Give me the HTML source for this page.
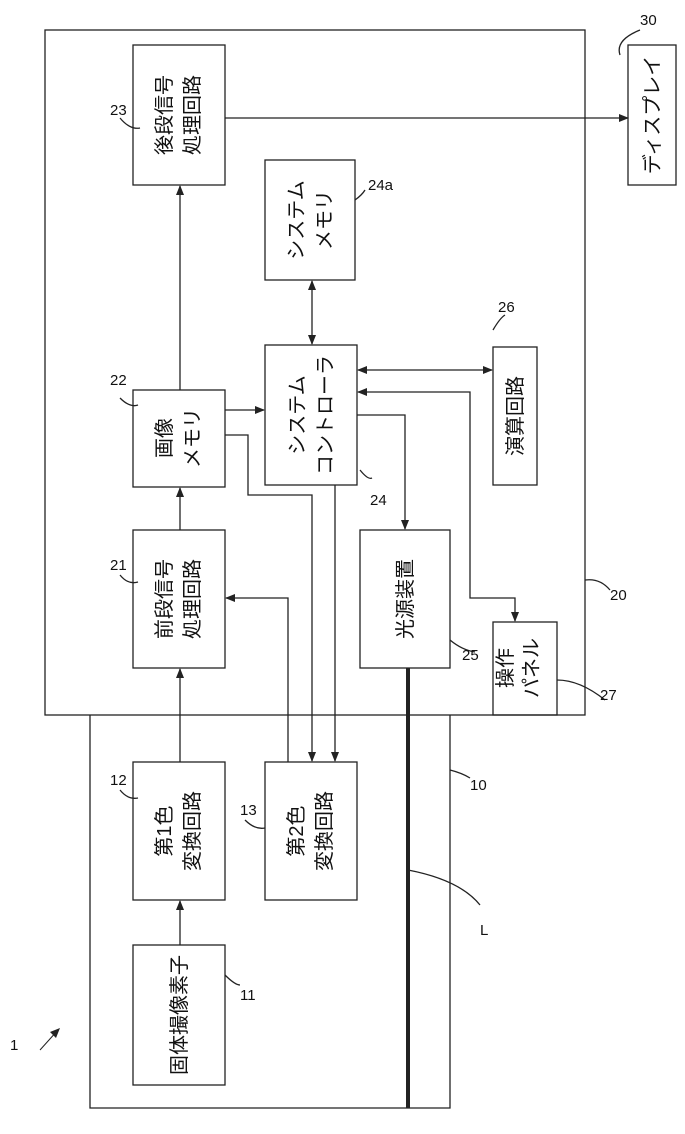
<!DOCTYPE html>
<html><head><meta charset="utf-8"><style>body{margin:0;background:#fff}svg{display:block}</style></head>
<body>
<svg width="685" height="1134" viewBox="0 0 685 1134" xmlns="http://www.w3.org/2000/svg" font-family="Liberation Sans, Noto Sans CJK JP, sans-serif">
<defs><marker id="a" markerWidth="10" markerHeight="10" refX="9" refY="5" orient="auto" markerUnits="userSpaceOnUse"><path d="M0,1 L10,5 L0,9 Z" fill="#222"/></marker>
<marker id="b" markerWidth="10" markerHeight="10" refX="1" refY="5" orient="auto" markerUnits="userSpaceOnUse"><path d="M10,1 L0,5 L10,9 Z" fill="#222"/></marker></defs>
<g fill="none" stroke="#222" stroke-width="1.3">
<rect x="45" y="30" width="540" height="685"/>
<polyline points="90,715 90,1108 450,1108 450,715"/>
<rect x="133" y="45" width="92" height="140"/>
<rect x="265" y="160" width="90" height="120"/>
<rect x="133" y="390" width="92" height="97"/>
<rect x="265" y="345" width="92" height="140"/>
<rect x="493" y="347" width="44" height="138"/>
<rect x="133" y="530" width="92" height="138"/>
<rect x="360" y="530" width="90" height="138"/>
<rect x="493" y="622" width="64" height="93"/>
<rect x="133" y="762" width="92" height="138"/>
<rect x="265" y="762" width="92" height="138"/>
<rect x="133" y="945" width="92" height="140"/>
<rect x="628" y="45" width="48" height="140"/>
<line x1="225" y1="118" x2="628" y2="118" marker-end="url(#a)"/>
<line x1="180" y1="390" x2="180" y2="186" marker-end="url(#a)"/>
<line x1="180" y1="530" x2="180" y2="488" marker-end="url(#a)"/>
<line x1="180" y1="762" x2="180" y2="669" marker-end="url(#a)"/>
<line x1="180" y1="945" x2="180" y2="901" marker-end="url(#a)"/>
<line x1="312" y1="281" x2="312" y2="344" marker-start="url(#b)" marker-end="url(#a)"/>
<line x1="358" y1="370" x2="492" y2="370" marker-start="url(#b)" marker-end="url(#a)"/>
<polyline points="358,392 470,392 470,598 515,598 515,621" marker-start="url(#b)" marker-end="url(#a)"/>
<polyline points="357,415 405,415 405,529" marker-end="url(#a)"/>
<line x1="225" y1="410" x2="264" y2="410" marker-end="url(#a)"/>
<polyline points="225,435 248,435 248,495 312,495 312,761" marker-end="url(#a)"/>
<line x1="335" y1="485" x2="335" y2="761" marker-end="url(#a)"/>
<polyline points="288,762 288,598 226,598" marker-end="url(#a)"/>
<path d="M120,118 Q130,130 140,128"/><path d="M355,200 Q362,195 365,190"/>
<path d="M120,398 Q130,408 138,405"/><path d="M120,575 Q128,585 138,582"/>
<path d="M360,470 Q368,480 372,478"/><path d="M450,640 Q462,650 475,652"/>
<path d="M493,330 Q500,318 505,315"/><path d="M557,680 Q580,680 605,700"/>
<path d="M585,580 Q600,578 610,590"/><path d="M120,790 Q128,800 138,798"/>
<path d="M245,820 Q255,830 265,828"/><path d="M225,975 Q235,985 240,985"/>
<path d="M450,770 Q462,773 470,778"/><path d="M408,870 Q460,880 480,905"/>
<path d="M640,30 Q615,40 620,55"/>
</g>
<line x1="408" y1="668" x2="408" y2="1108" stroke="#222" stroke-width="4"/>
<g font-size="20" fill="#111" text-anchor="middle">
<text transform="translate(171,115) rotate(-90)">後段信号</text>
<text transform="translate(199,115) rotate(-90)">処理回路</text>
<text transform="translate(303,220) rotate(-90)">システム</text>
<text transform="translate(331,220) rotate(-90)">メモリ</text>
<text transform="translate(171,438) rotate(-90)">画像</text>
<text transform="translate(199,438) rotate(-90)">メモリ</text>
<text transform="translate(304,415) rotate(-90)">システム</text>
<text transform="translate(332,415) rotate(-90)">コントローラ</text>
<text transform="translate(522,416) rotate(-90)">演算回路</text>
<text transform="translate(171,599) rotate(-90)">前段信号</text>
<text transform="translate(199,599) rotate(-90)">処理回路</text>
<text transform="translate(412,599) rotate(-90)">光源装置</text>
<text transform="translate(512,668) rotate(-90)">操作</text>
<text transform="translate(538,668) rotate(-90)">パネル</text>
<text transform="translate(171,831) rotate(-90)">第1色</text>
<text transform="translate(199,831) rotate(-90)">変換回路</text>
<text transform="translate(303,831) rotate(-90)">第2色</text>
<text transform="translate(331,831) rotate(-90)">変換回路</text>
<text transform="translate(186,1015) rotate(-90)">固体撮像素子</text>
<text transform="translate(659,115) rotate(-90)">ディスプレイ</text>
</g>
<g font-size="15" fill="#111">
<text x="110" y="115">23</text><text x="368" y="190">24a</text><text x="110" y="385">22</text>
<text x="110" y="570">21</text><text x="370" y="505">24</text><text x="462" y="660">25</text>
<text x="498" y="312">26</text><text x="600" y="700">27</text><text x="610" y="600">20</text>
<text x="110" y="785">12</text><text x="240" y="815">13</text><text x="240" y="1000">11</text>
<text x="470" y="790">10</text><text x="480" y="935">L</text><text x="640" y="25">30</text>
<text x="10" y="1050">1</text>
</g>
<path d="M40,1050 L58,1030" stroke="#222" fill="none"/><path d="M60,1028 L50,1032 L56,1038 Z" fill="#222"/>
</svg>
</body></html>
